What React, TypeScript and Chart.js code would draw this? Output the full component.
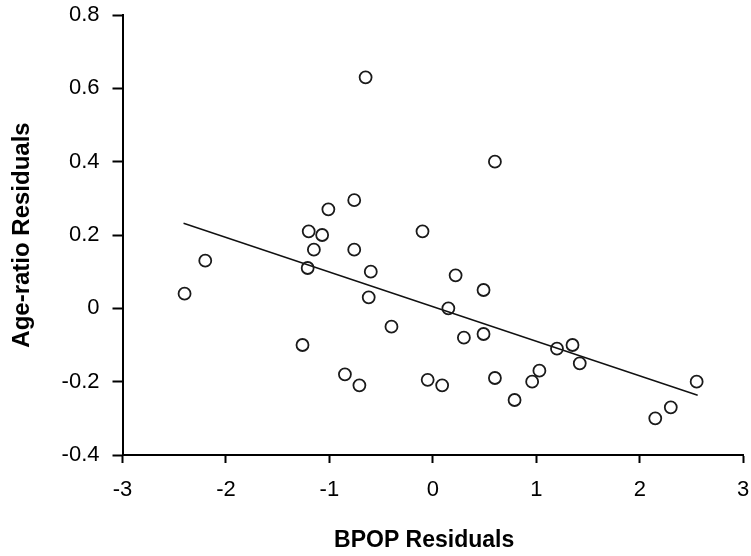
import React, { useEffect, useRef } from "react";
import { Chart, registerables } from "chart.js";

Chart.register(...registerables);

const bpopResiduals = [
  -2.40, -2.20, -0.65, -0.76, -1.01, -1.20, -1.07, -1.15, -0.76, -1.21, -0.60, -1.26,
  -0.85, -0.71, -0.62, 0.22, 0.49, 0.15, -0.40, 0.30, 0.49, 1.20, 1.35, 1.42, -0.05,
  0.09, 0.60, 1.03, 0.96, 0.79, 2.55, 2.30, 2.15, 0.60, -0.10,
];
const ageRatioResiduals = [
  0.04, 0.13, 0.63, 0.295, 0.27, 0.21, 0.20, 0.16, 0.16, 0.11, 0.10, -0.10,
  -0.18, -0.21, 0.03, 0.09, 0.05, 0.00, -0.05, -0.08, -0.07, -0.11, -0.10, -0.15, -0.195,
  -0.21, -0.19, -0.17, -0.20, -0.25, -0.20, -0.27, -0.30, 0.40, 0.21,
];
const fitLineX = [-2.41, 2.56];
const fitLineY = [0.232, -0.237];

const xTicks = [-3, -2, -1, 0, 1, 2, 3];
const yTickLabels = ["-0.4", "-0.2", "0", "0.2", "0.4", "0.6", "0.8"];
const xTitle = "BPOP Residuals";
const yTitle = "Age-ratio Residuals";

const FONT = "'Liberation Sans', Arial, sans-serif";

const xTitlePlugin = {
  id: "xTitlePlugin",
  afterDraw(chart: any) {
    const { ctx, chartArea } = chart;
    ctx.save();
    ctx.font = `bold 23px ${FONT}`;
    ctx.fillStyle = "#000";
    ctx.textAlign = "center";
    ctx.textBaseline = "middle";
    const cx = chartArea.left + (chartArea.right - chartArea.left) * 0.486;
    ctx.fillText(xTitle, cx, chart.height - 15);
    ctx.restore();
  },
};

const zeroPad = (s: any) => {
  s.paddingTop = 0;
  s.paddingBottom = 0;
  s.paddingLeft = 0;
  s.paddingRight = 0;
};

export default function App() {
  const ref = useRef<HTMLCanvasElement | null>(null);

  useEffect(() => {
    if (!ref.current) return;
    const points = bpopResiduals.map((x, i) => ({ x, y: ageRatioResiduals[i] }));
    const line = fitLineX.map((x, i) => ({ x, y: fitLineY[i] }));
    const chart = new Chart(ref.current, {
      type: "scatter",
      data: {
        datasets: [
          {
            data: points,
            pointRadius: 6,
            pointBorderWidth: 1.8,
            borderColor: "#1a1a1a",
            backgroundColor: "rgba(255,255,255,0)",
            showLine: false,
          },
          {
            data: line,
            showLine: true,
            pointRadius: 0,
            borderColor: "#111",
            borderWidth: 1.4,
            fill: false,
          },
        ],
      },
      options: {
        animation: false,
        responsive: false,
        plugins: { legend: { display: false }, tooltip: { enabled: false } },
        layout: { padding: { top: 15, right: 6.5, left: 0, bottom: 0 } },
        scales: {
          x: {
            type: "linear",
            min: -3,
            max: 3,
            afterFit: (s: any) => {
              s.height = 101;
              zeroPad(s);
            },
            afterBuildTicks: (s: any) => {
              s.ticks = xTicks.map((v) => ({ value: v }));
            },
            border: { display: true, color: "#000", width: 2 },
            grid: {
              display: true,
              drawOnChartArea: false,
              drawTicks: true,
              tickLength: 8,
              tickColor: "#000",
              tickWidth: 2,
            },
            ticks: {
              color: "#000",
              padding: 14,
              font: { family: FONT, size: 22 },
              callback: (v: any) => String(v),
            },
            title: { display: false, text: xTitle },
          },
          y: {
            type: "linear",
            min: -0.4,
            max: 0.8,
            afterFit: (s: any) => {
              s.width = 122.5;
              zeroPad(s);
            },
            afterBuildTicks: (s: any) => {
              s.ticks = yTickLabels.map((t) => ({ value: parseFloat(t) }));
            },
            border: { display: true, color: "#000", width: 2 },
            grid: {
              display: true,
              drawOnChartArea: false,
              drawTicks: true,
              tickLength: 10,
              tickColor: "#000",
              tickWidth: 2,
            },
            ticks: {
              color: "#000",
              padding: 13,
              font: { family: FONT, size: 22 },
              callback: (v: any, i: number) => yTickLabels[i],
            },
            title: {
              display: true,
              text: yTitle,
              color: "#000",
              font: { family: FONT, size: 24, weight: "bold" },
              padding: { top: 8, bottom: 0 },
            },
          },
        },
      },
      plugins: [xTitlePlugin],
    });
    return () => chart.destroy();
  }, []);

  return (
    <div style={{ position: "fixed", left: 0, top: 0, width: 751, height: 556, background: "#fff" }}>
      <canvas ref={ref} width={751} height={556} />
    </div>
  );
}
